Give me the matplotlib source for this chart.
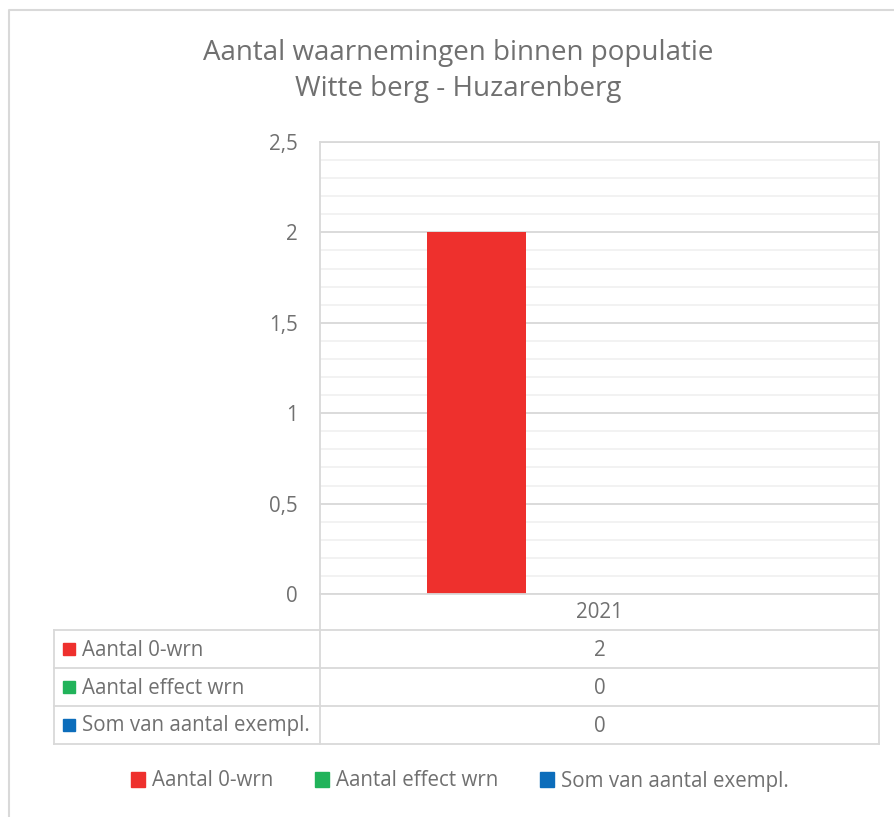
import matplotlib
matplotlib.use('Agg')
import matplotlib.pyplot as plt
from matplotlib.lines import Line2D
from matplotlib.patches import Rectangle
import numpy as np

title = 'Aantal waarnemingen binnen populatie\nWitte berg - Huzarenberg'
categories = ['2021']
series_names = ['Aantal 0-wrn', 'Aantal effect wrn', 'Som van aantal exempl.']
series_values = [[2], [0], [0]]
series_colors = ['#ee302d', '#21b35a', '#0c6dbb']
yticks = [0, 0.5, 1, 1.5, 2, 2.5]
ytick_labels = ['0', '0,5', '1', '1,5', '2', '2,5']

plt.rcParams['font.family'] = ['Open Sans', 'DejaVu Sans']
TXT = '#707070'
GRID = '#d9d9d9'
MINOR = '#f0f0f0'
FS = 14.8

W, H = 895, 817
fig = plt.figure(figsize=(W / 100, H / 100), dpi=100)

def fx(x):
    return x / W

def fy(y):
    return 1 - y / H

# plot area in pixels
L, R, T, B = 320, 879, 142, 594
ax = fig.add_axes([fx(L), fy(B), fx(R - L), fy(T) - fy(B)])
ax.set_xlim(0, 1)
ax.set_ylim(0, 2.5)

# minor + major gridlines
for v in np.arange(0.1, 2.5, 0.1):
    ax.axhline(v, color=MINOR, lw=1.2, zorder=0)
for v in yticks:
    ax.axhline(v, color=GRID, lw=1.3, zorder=0.5)

n = len(series_names)
bw = 0.176
offsets = [0.368 - bw / 2 + i * bw for i in range(n)]
for i in range(n):
    for j, cat in enumerate(categories):
        if series_values[i][j] > 0:
            ax.bar(offsets[i], series_values[i][j], width=bw, color=series_colors[i], zorder=2)

ax.set_yticks(yticks)
ax.set_yticklabels(ytick_labels, fontsize=FS, color=TXT)
ax.tick_params(axis='y', length=0, pad=16)
ax.set_xticks([])
for s in ax.spines.values():
    s.set_color(GRID)
    s.set_linewidth(1.3)

# data table below the axis
row_h = 38
cat_top = B
cat_bot = 630
tab_left = 54
rows_y = [cat_bot + k * row_h for k in range(n + 1)]

def hline(y, x0, x1):
    fig.add_artist(Line2D([fx(x0), fx(x1)], [fy(y), fy(y)], color=GRID, lw=1.3))

def vline(x, y0, y1):
    fig.add_artist(Line2D([fx(x), fx(x)], [fy(y0), fy(y1)], color=GRID, lw=1.3))

for y in rows_y:
    hline(y, tab_left, R)
vline(tab_left, rows_y[0], rows_y[-1])
vline(L, B, rows_y[-1])
vline(R, B, rows_y[-1])

col_center = (L + R) / 2
for j, cat in enumerate(categories):
    fig.text(fx(col_center), fy((cat_top + cat_bot) / 2 + 1), cat, ha='center', va='center',
             fontsize=FS, color=TXT)
for i in range(n):
    yc = (rows_y[i] + rows_y[i + 1]) / 2
    fig.add_artist(Rectangle((fx(63), fy(yc + 6)), fx(12), fy(yc - 6) - fy(yc + 6),
                             color=series_colors[i]))
    fig.text(fx(82), fy(yc + 1), series_names[i], ha='left', va='center', fontsize=FS, color=TXT)
    for j in range(len(categories)):
        fig.text(fx(col_center), fy(yc + 1), str(series_values[i][j]), ha='center', va='center',
                 fontsize=FS, color=TXT)

# legend
handles = [Rectangle((0, 0), 1, 1, color=c) for c in series_colors]
fig.legend(handles, series_names, loc='center', bbox_to_anchor=(fx(460), fy(781)), ncol=3,
           frameon=False, fontsize=FS, labelcolor=TXT, handlelength=0.7, handleheight=0.7,
           handletextpad=0.35, columnspacing=2.0)

fig.text(fx(458), fy(71), title, ha='center', va='center', fontsize=20, color=TXT,
         linespacing=1.35)

# chart outer border
fig.add_artist(Line2D([fx(9), fx(9), fx(W + 5)], [fy(H + 5), fy(10), fy(10)], color=GRID, lw=1.5))

fig.savefig('out.png', dpi=100, facecolor='white')
